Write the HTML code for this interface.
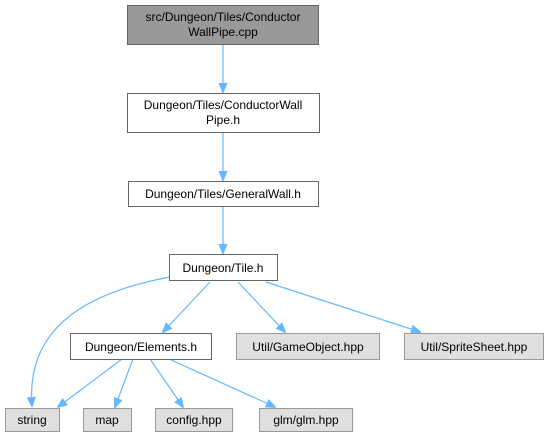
<!DOCTYPE html>
<html><head><style>
body{margin:0;background:#fff;}
svg text{font-family:"Liberation Sans",sans-serif;font-size:12px;fill:#000;}
</style></head><body>
<svg width="547" height="432" viewBox="0 0 547 432" xmlns="http://www.w3.org/2000/svg">
<defs><marker id="a" markerWidth="10" markerHeight="10" refX="9" refY="5" orient="auto" markerUnits="userSpaceOnUse"><path d="M0,1 L10,5 L0,9 Z" fill="#63b8ff" stroke="#63b8ff"/></marker></defs>
<g fill="none" stroke="#63b8ff" stroke-width="1.2" marker-end="url(#a)">
<path d="M223,45 L223,92"/>
<path d="M223,133 L223,180"/>
<path d="M223,206 L223,253"/>
<path d="M170,277 C100,290 25,320 32,406"/>
<path d="M210,282 L163,332"/>
<path d="M238,282 L285,332"/>
<path d="M266,282 L420,332"/>
<path d="M122,359 L58,407"/>
<path d="M133,359 L115,407"/>
<path d="M150,359 L183,407"/>
<path d="M169,359 L275,407"/>
</g>
<g stroke-width="1">
<rect x="127.5" y="5.5" width="191" height="39" fill="#999" stroke="#666"/>
<rect x="127.5" y="93.5" width="192" height="39" fill="#fff" stroke="#666"/>
<rect x="128.5" y="181.5" width="190" height="25" fill="#fff" stroke="#666"/>
<rect x="169.5" y="254.5" width="108" height="26" fill="#fff" stroke="#666"/>
<rect x="70.5" y="333.5" width="141" height="26" fill="#fff" stroke="#666"/>
<rect x="236.5" y="333.5" width="143" height="26" fill="#e0e0e0" stroke="#999"/>
<rect x="404.5" y="333.5" width="139" height="26" fill="#e0e0e0" stroke="#999"/>
<rect x="5.5" y="408.5" width="54" height="23" fill="#e0e0e0" stroke="#999"/>
<rect x="83.5" y="408.5" width="48" height="23" fill="#e0e0e0" stroke="#999"/>
<rect x="155.5" y="408.5" width="77" height="23" fill="#e0e0e0" stroke="#999"/>
<rect x="259.5" y="408.5" width="93" height="23" fill="#e0e0e0" stroke="#999"/>
</g>
<g text-anchor="middle">
<text x="223" y="21">src/Dungeon/Tiles/Conductor</text>
<text x="223" y="36">WallPipe.cpp</text>
<text x="223" y="109">Dungeon/Tiles/ConductorWall</text>
<text x="223" y="124">Pipe.h</text>
<text x="223" y="198">Dungeon/Tiles/GeneralWall.h</text>
<text x="223" y="272">Dungeon/Tile.h</text>
<text x="141" y="351">Dungeon/Elements.h</text>
<text x="308" y="351">Util/GameObject.hpp</text>
<text x="474" y="351">Util/SpriteSheet.hpp</text>
<text x="32" y="424">string</text>
<text x="107" y="424">map</text>
<text x="194" y="424">config.hpp</text>
<text x="306" y="424">glm/glm.hpp</text>
</g>
</svg>
</body></html>
